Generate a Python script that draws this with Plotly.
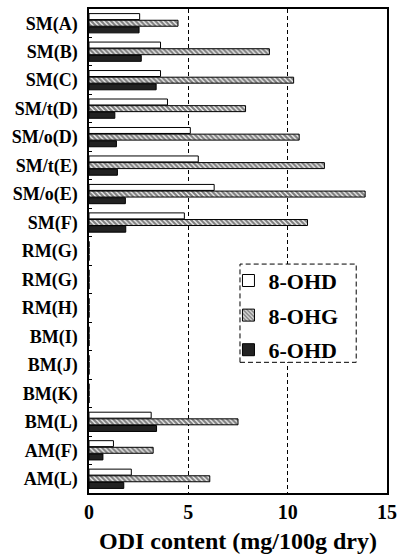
import plotly.graph_objects as go

categories = ["SM(A)", "SM(B)", "SM(C)", "SM/t(D)", "SM/o(D)", "SM/t(E)", "SM/o(E)", "SM(F)",
              "RM(G)", "RM(G)", "RM(H)", "BM(I)", "BM(J)", "BM(K)", "BM(L)", "AM(F)", "AM(L)"]
ohd8 = [2.55, 3.6, 3.6, 3.95, 5.1, 5.5, 6.3, 4.8, 0, 0, 0, 0, 0, 0, 3.13, 1.23, 2.13]
ohg8 = [4.48, 9.08, 10.3, 7.88, 10.58, 11.85, 13.9, 11.0, 0, 0, 0, 0, 0, 0, 7.5, 3.23, 6.08]
ohd6 = [2.52, 2.63, 3.38, 1.3, 1.38, 1.43, 1.83, 1.85, 0, 0, 0, 0, 0, 0, 3.4, 0.7, 1.75]
x_ticks = [0, 5, 10, 15]

pos = list(range(len(categories)))
serif = "Liberation Serif"

fig = go.Figure()
fig.add_trace(go.Bar(y=pos, x=ohd8, orientation="h", name="8-OHD", legendgroup="a",
                     marker=dict(color="white", line=dict(color="black", width=1))))
fig.add_trace(go.Bar(y=pos, x=ohg8, orientation="h", name="8-OHG", legendgroup="b",
                     marker=dict(color="white", line=dict(color="black", width=1),
                                 pattern=dict(shape="\\", fgcolor="black", bgcolor="white",
                                              size=3.5, solidity=0.65))))
fig.add_trace(go.Bar(y=pos, x=ohd6, orientation="h", name="6-OHD", legendgroup="c",
                     marker=dict(color="#222222", line=dict(color="black", width=1))))

fig.add_shape(type="rect", xref="x", yref="paper", x0=7.6, x1=13.45, y0=0.270, y1=0.473,
              line=dict(color="black", width=1, dash="5px,3px"), fillcolor="white", layer="above")

fig.update_layout(
    width=404, height=558,
    margin=dict(l=89, r=16, t=7, b=65),
    paper_bgcolor="white", plot_bgcolor="white",
    barmode="group", bargap=0.3, bargroupgap=0.1,
    font=dict(family=serif, color="black", weight="bold"),
    showlegend=True,
    legend=dict(x=0.468, y=0.482, xanchor="left", yanchor="top",
                bgcolor="rgba(0,0,0,0)", tracegroupgap=3,
                font=dict(family=serif, size=22, weight="bold")),
    xaxis=dict(range=[0, 15], tickvals=x_ticks, ticktext=[str(t) for t in x_ticks],
               showgrid=True, griddash="4px,3px", gridcolor="black", gridwidth=1,
               zeroline=False, showline=True, linecolor="black", linewidth=1.5, mirror=True,
               ticks="", tickfont=dict(family=serif, size=20, weight="bold"),
               title=dict(text="ODI content (mg/100g dry)", standoff=10,
                          font=dict(family=serif, size=24, weight="bold"))),
    yaxis=dict(range=[len(categories) - 0.5, -0.5], tickvals=pos, ticktext=categories,
               showgrid=False, zeroline=False, showline=True, linecolor="black", linewidth=1.5,
               mirror=True, ticks="inside", ticklen=0, ticklabelstandoff=6,
               tickfont=dict(family=serif, size=18, weight="bold"),
               minor=dict(tick0=0.5, dtick=1, ticks="inside", ticklen=3, tickcolor="black",
                          tickwidth=1, showgrid=False)),
)

fig.write_html("out.html", config={"displayModeBar": False},
               post_script="document.body.style.margin='0';")
